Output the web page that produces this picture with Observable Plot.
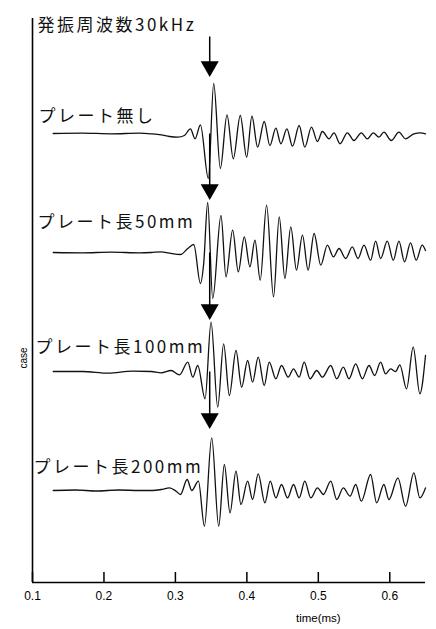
<!DOCTYPE html>
<html><head><meta charset="utf-8">
<script src="https://cdn.jsdelivr.net/npm/d3@7"></script>
<script src="https://cdn.jsdelivr.net/npm/@observablehq/plot@0.6"></script>
<style>
html,body{margin:0;padding:0;background:#fff;}
#chart svg{display:block;}
</style>
</head><body><div id="chart"></div>
<script>
// ---- data ----
const title = "発振周波数30kHz";
const traceNames = ["プレート無し", "プレート長50mm", "プレート長100mm", "プレート長200mm"];
const xTicks = [0.1, 0.2, 0.3, 0.4, 0.5, 0.6];
const xLabel = "time(ms)";
const yLabel = "case";
const arrowTime = 0.348;

// trace 1: プレート無し
const t1 = [0.129,0.17,0.21,0.25,0.2661,0.2801,0.2917,0.3033,0.3126,0.3210,0.3275,0.3350,0.3461,0.3536,0.3629,0.3722,0.3810,0.3908,0.3997,0.4071,0.4150,0.4243,0.4322,0.4406,0.4476,0.4560,0.4639,0.4732,0.4811,0.4904,0.4988,0.5057,0.5150,0.5220,0.5304,0.5406,0.5499,0.5602,0.5686,0.5769,0.5848,0.5918,0.6021,0.6128,0.6221,0.6337,0.6430,0.6500];
const v1 = [0,0.4,-0.3,0.3,-0.3,-1.3,-3,-3.7,-2,4.7,-5.3,8.7,-45,50,-35,18.7,-25.3,18,-23.7,17.3,-13.7,12,-12,5.3,-10.3,4.7,-12.7,8,-13.7,6.3,-8,2,-5.3,0.7,-10.3,0.7,-7,0.7,-5.3,0.7,-3.7,1.3,-7,1.3,-5.3,-0.3,0.7,-0.3];

// trace 2: プレート長50mm
const t2 = [0.129,0.17,0.21,0.25,0.2661,0.2801,0.2917,0.3071,0.3173,0.3257,0.3350,0.3396,0.3452,0.3522,0.3638,0.3708,0.3801,0.3880,0.3964,0.4043,0.4113,0.4187,0.4276,0.4373,0.4453,0.4532,0.4615,0.4694,0.4778,0.4857,0.4941,0.5034,0.5127,0.5211,0.5290,0.5383,0.5476,0.5555,0.5639,0.5732,0.5802,0.5872,0.5965,0.6049,0.6128,0.6207,0.6290,0.6370,0.6453,0.6500];
const v2 = [0,-0.3,0.3,-0.3,0,0.6,-0.7,-2,4,8,-31,-11,50,-46,37,-24.4,22.3,-19.4,15.6,-14.4,12.3,-27.7,47.3,-44.4,35.6,-26,25.6,-17.7,17.3,-17.7,19,-12.7,7.3,-4.4,4,-6,5.6,-6,7.3,-7.7,11.3,-6,11.3,-7.7,11.3,-9.4,9.6,-7.7,7.3,2];

// trace 3: プレート長100mm
const t3 = [0.129,0.17,0.206,0.24,0.2661,0.2801,0.2940,0.3057,0.3173,0.3243,0.3313,0.3415,0.3499,0.3592,0.3675,0.3755,0.3848,0.3927,0.4011,0.4080,0.4159,0.4243,0.4313,0.4406,0.4485,0.4578,0.4653,0.4732,0.4802,0.4885,0.4978,0.5057,0.5174,0.5258,0.5350,0.5430,0.5523,0.5616,0.5709,0.5788,0.5872,0.5941,0.6011,0.6081,0.6141,0.6235,0.6328,0.6421,0.6500];
const v3 = [0,0,-1.7,0.3,0,-1.3,1,-3.3,9.3,-5.7,6,-27.3,49.3,-35.7,27.7,-24,21,-15.7,11,-10.7,14.3,-14,9.3,-7.3,6,-5.7,2.7,-5.7,9.3,-7.3,1,-5.7,6,-7.3,4.3,-7.3,7.7,-7.3,6,-4,9.3,-2.3,2.7,0,6.7,-17.3,24.3,-22.3,16];

// trace 4: プレート長200mm
const t4 = [0.129,0.16,0.19,0.22,0.25,0.2661,0.2801,0.2917,0.3010,0.3071,0.3164,0.3229,0.3322,0.3406,0.3508,0.3606,0.3685,0.3764,0.3848,0.3917,0.4011,0.4080,0.4159,0.4252,0.4327,0.4406,0.4485,0.4569,0.4653,0.4732,0.4811,0.4895,0.4988,0.5071,0.5174,0.5258,0.5350,0.5444,0.5523,0.5602,0.5732,0.5816,0.5918,0.5988,0.6114,0.6221,0.6337,0.6421,0.6500];
const v4 = [0,0.5,-0.5,0.5,0,0,1,2.6,-0.7,-4,11,0,9.3,-35.7,52.6,-35.7,26,-22.4,19.3,-14,9.3,-9,16.6,-12.4,9.3,-7.4,6,-7.4,6,-7.4,9.3,-7.4,2.6,-4,9.3,-9,2.6,-5.7,6,-10.7,16,-12.4,6,-9,12.6,-15.7,17.6,-7.4,2.6];

// ---- layout ----
const spacing = 119;                 // vertical distance between stacked traces (y units)
const yDomain = [-449, 115];
const labelRaise = [17, 30, 24, 23];
const labelDx = [6, 5, 3, 1];
const headRaise = [67, 63, 62, 72];
const firstArrowTop = 97;

const times = [t1, t2, t3, t4];
const vals = [v1, v2, v3, v4];
const rows = [];
times.forEach((ts, k) => ts.forEach((t, i) => rows.push({trace: traceNames[k], t, y: vals[k][i] - k * spacing})));

const arrows = traceNames.map((name, k) => ({
  t: arrowTime,
  head: -k * spacing + headRaise[k],
  top: k === 0 ? firstArrowTop : -(k - 1) * spacing
}));

const labels = traceNames.map((name, k) => ({name, y: -k * spacing + labelRaise[k], dx: labelDx[k]}));

const jp = "'Noto Sans CJK JP', sans-serif";

const chart = Plot.plot({
  width: 436,
  height: 629,
  marginLeft: 32,
  marginRight: 11,
  marginTop: 18,
  marginBottom: 47,
  style: {fontFamily: "'Liberation Sans', sans-serif", background: "#fff", color: "#000"},
  x: {domain: [0.1, 0.65]},
  y: {domain: yDomain, axis: null},
  marks: [
    Plot.ruleX([0.1], {stroke: "#000", strokeWidth: 1.6}),
    Plot.ruleY([yDomain[0]], {stroke: "#000", strokeWidth: 1.6}),
    Plot.axisX({ticks: xTicks, tickSize: -10, tickPadding: 19, tickFormat: d => d.toFixed(1), fontSize: 12, label: null, strokeWidth: 1.5}),
    Plot.text([xLabel], {x: 0.5, frameAnchor: "bottom", dy: 39, fontSize: 11.5}),
    Plot.text([yLabel], {y: -235, frameAnchor: "left", dx: -9, rotate: -90, fontSize: 10}),
    Plot.line(rows, {x: "t", y: "y", z: "trace", curve: "monotone-x", stroke: "#111", strokeWidth: 1.3}),
    Plot.link(arrows, {x1: "t", x2: "t", y1: "top", y2: "head", stroke: "#000", strokeWidth: 1.5}),
    Plot.dot(arrows, {x: "t", y: "head", symbol: "triangle", r: 6.7, rotate: 180, fill: "#000", stroke: null}),
    Plot.text([title], {frameAnchor: "top-left", dx: 5, dy: 7, textAnchor: "start", lineAnchor: "middle", fontSize: 17, fontFamily: jp, style: "letter-spacing:2.5px", fill: "#111"}),
    ...labels.map(l => Plot.text([l.name], {y: l.y, frameAnchor: "left", dx: l.dx, textAnchor: "start", fontSize: 17, fontFamily: jp, fill: "#111"}))
  ]
});
chart.querySelectorAll("text").forEach(t => { if (/[\u3040-\u9fff]/.test(t.textContent)) t.style.letterSpacing = "2.5px"; });
document.getElementById("chart").appendChild(chart);
</script>
</body></html>
